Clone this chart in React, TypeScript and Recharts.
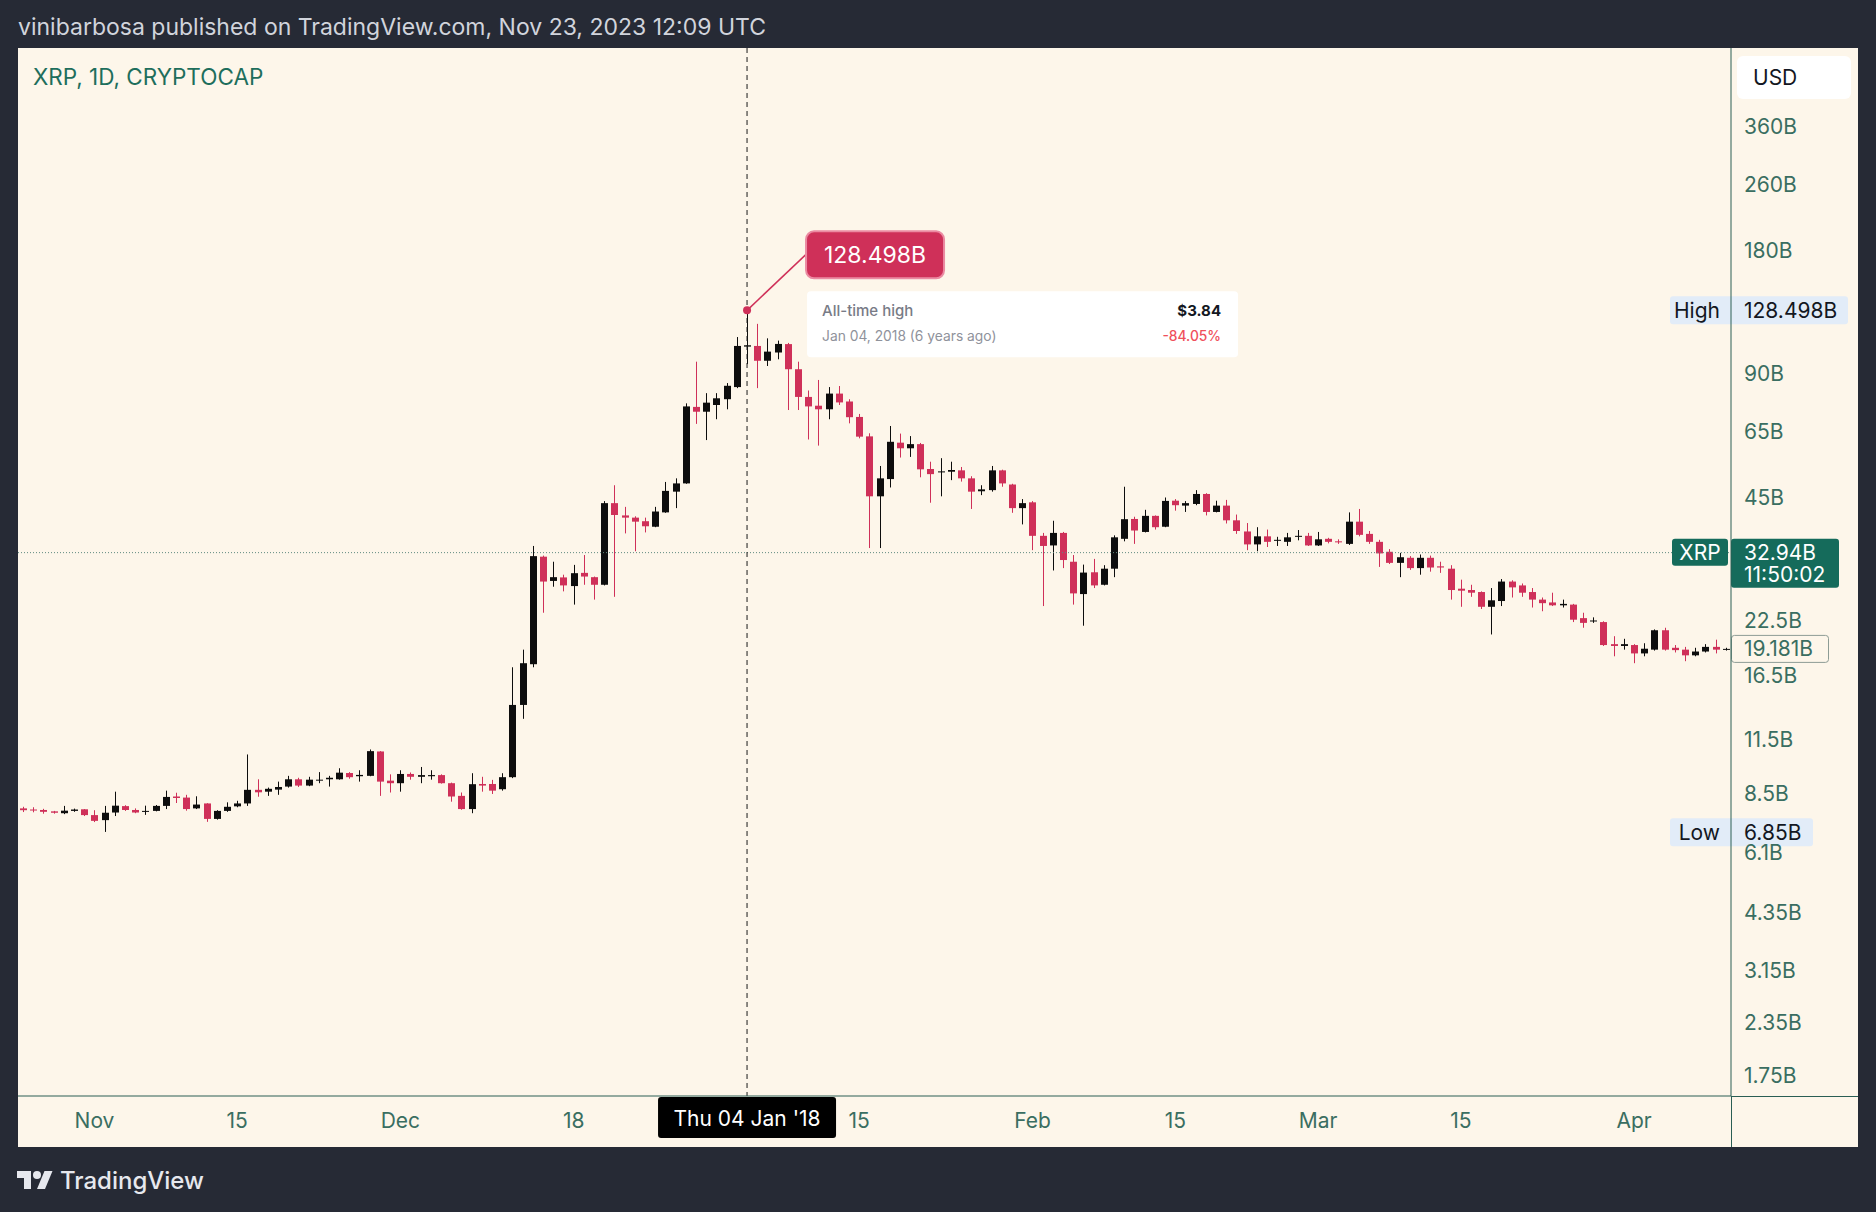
import React from "react";
import { ComposedChart, Bar, XAxis, YAxis, ReferenceLine, ReferenceDot } from "recharts";

const FONT = "Inter, 'Noto Sans', sans-serif";
const PAGE_BG = "#262a35";
const PANEL_BG = "#fdf6ea";
const AXIS = "#2a5e54";
const TICK = "#3a6e61";
const UP = "#0d0d0d";
const DOWN = "#cf3059";
const TEAL = "#156b5b";
const TAG_BLUE = "#e2ecf8";
const FS = 21;

// daily candles, XRP market cap in billions USD, first bar = 2017-10-25
const OPEN = [
  7.83, 7.78, 7.76, 7.7, 7.62, 7.72, 7.79, 7.54, 7.33, 7.65,
  7.93, 7.76, 7.68, 7.72, 7.94, 8.37, 8.32, 7.83, 8.05, 7.38,
  7.72, 7.92, 8.05, 8.69, 8.6, 8.7, 8.85, 9.22, 8.9, 9.15,
  9.22, 9.22, 9.55, 9.38, 9.4, 10.78, 9.15, 9.02, 9.5, 9.35,
  9.38, 9.44, 9.02, 8.4, 7.8, 8.98, 8.98, 8.72, 9.33, 14.0,
  17.6, 32.2, 28.1, 28.66, 27.3, 29.4, 28.7, 27.5, 43.5, 40.6,
  40.1, 39.3, 38.1, 41.3, 46.4, 48.6, 74.7, 72.7, 75.5, 78.0,
  83.5, 104.8, 105.2, 96.8, 101.4, 106.3, 92.3, 79.0, 75.2, 73.7,
  80.5, 77.0, 70.6, 63.3, 45.2, 49.8, 61.1, 59.2, 60.6, 52.7,
  51.7, 51.9, 52.3, 50.0, 46.5, 46.8, 52.3, 48.3, 42.3, 43.7,
  36.2, 34.3, 36.8, 31.3, 26.1, 29.5, 27.5, 30.1, 35.6, 39.8,
  37.0, 40.5, 38.1, 44.1, 42.9, 43.3, 45.8, 41.4, 42.9, 39.5,
  37.1, 34.5, 36.1, 35.2, 35.0, 36.0, 36.2, 34.3, 35.6, 35.1,
  34.6, 39.2, 36.6, 35.0, 33.1, 31.1, 32.0, 30.2, 32.0, 30.5,
  30.1, 26.9, 26.7, 26.4, 24.3, 25.1, 28.0, 27.4, 26.4, 25.3,
  24.9, 24.5, 24.6, 22.8, 22.4, 22.3, 19.7, 19.5, 19.6, 18.7,
  19.1, 21.3, 19.3, 19.1, 18.5, 18.9, 19.4, 19.1,
];

const HIGH = [
  7.9, 7.88, 7.81, 7.72, 7.94, 7.82, 7.8, 7.75, 7.94, 8.6,
  7.97, 7.83, 7.95, 7.98, 8.65, 8.55, 8.45, 8.38, 8.06, 7.75,
  8.1, 8.17, 10.6, 9.22, 8.8, 9.1, 9.4, 9.3, 9.35, 9.6,
  9.4, 9.81, 9.6, 9.7, 10.9, 10.8, 9.48, 9.7, 9.58, 9.88,
  9.7, 9.48, 9.05, 8.56, 9.54, 9.35, 9.19, 9.54, 17.3, 19.1,
  34.2, 32.4, 31.3, 29.1, 30.75, 32.5, 28.8, 44.0, 48.1, 42.6,
  40.4, 40.1, 42.6, 49.0, 50.0, 76.2, 96.3, 80.7, 80.7, 85.4,
  110.6, 128.498, 119.1, 109.8, 108.4, 107.0, 96.3, 81.9, 86.9, 83.5,
  84.0, 78.0, 71.8, 64.4, 53.6, 67.1, 64.3, 63.4, 61.0, 54.9,
  56.0, 54.9, 53.3, 50.6, 48.1, 53.6, 52.5, 48.5, 44.5, 44.0,
  36.8, 39.4, 37.0, 32.5, 30.8, 31.8, 30.7, 36.3, 47.7, 40.3,
  41.9, 40.6, 44.9, 44.5, 44.0, 46.8, 46.0, 44.1, 44.3, 40.8,
  38.9, 38.0, 37.5, 36.0, 36.8, 37.4, 36.8, 37.0, 35.8, 35.5,
  41.3, 42.1, 37.2, 35.4, 33.6, 32.9, 32.3, 32.6, 32.4, 31.3,
  30.7, 28.3, 27.5, 26.5, 27.0, 28.4, 28.2, 27.7, 27.0, 25.6,
  26.3, 25.3, 24.7, 23.5, 22.9, 22.4, 20.6, 20.3, 19.7, 19.8,
  21.4, 21.6, 19.6, 19.4, 19.3, 19.7, 20.2, 19.3,
];

const LOW = [
  7.67, 7.66, 7.6, 7.6, 7.58, 7.68, 7.5, 7.25, 6.86, 7.5,
  7.72, 7.62, 7.55, 7.7, 7.8, 8.07, 7.73, 7.8, 7.26, 7.35,
  7.68, 7.88, 7.94, 8.36, 8.4, 8.45, 8.8, 8.83, 8.87, 9.02,
  8.85, 9.2, 9.25, 9.1, 9.38, 8.4, 8.56, 8.6, 9.2, 9.02,
  9.2, 9.0, 8.13, 7.77, 7.62, 8.6, 8.49, 8.65, 9.28, 12.95,
  17.3, 23.5, 27.2, 26.5, 24.6, 27.5, 25.3, 27.4, 25.7, 36.7,
  33.2, 36.9, 38.0, 41.2, 42.3, 48.5, 67.9, 62.0, 69.7, 73.7,
  83.0, 95.0, 83.0, 94.0, 97.6, 73.4, 73.4, 62.2, 60.1, 69.7,
  75.5, 68.1, 62.6, 33.8, 33.8, 47.5, 56.2, 56.4, 50.3, 43.6,
  45.2, 49.5, 49.1, 42.1, 45.5, 46.4, 47.7, 41.2, 38.6, 33.4,
  24.4, 29.8, 30.2, 24.6, 21.85, 27.0, 27.4, 28.7, 35.1, 34.6,
  36.9, 37.5, 38.0, 41.7, 41.4, 43.0, 40.6, 41.3, 38.8, 36.6,
  33.4, 33.2, 34.0, 34.2, 34.2, 35.3, 34.2, 34.2, 34.7, 34.6,
  34.4, 36.1, 34.6, 30.4, 30.9, 28.7, 29.9, 29.1, 29.6, 29.4,
  25.3, 24.3, 25.7, 24.0, 20.8, 24.4, 25.6, 25.7, 24.2, 23.7,
  24.4, 24.2, 22.3, 21.6, 22.2, 19.5, 18.4, 19.1, 17.7, 18.4,
  19.0, 19.0, 18.8, 17.9, 18.4, 18.8, 18.7, 19.0,
];

const CLOSE = [
  7.75, 7.74, 7.68, 7.64, 7.73, 7.78, 7.54, 7.3, 7.64, 7.95,
  7.76, 7.65, 7.72, 7.94, 8.35, 8.3, 7.8, 8.0, 7.38, 7.72,
  7.9, 8.05, 8.69, 8.57, 8.74, 8.83, 9.22, 8.9, 9.2, 9.2,
  9.3, 9.57, 9.33, 9.45, 10.8, 9.1, 9.02, 9.5, 9.35, 9.44,
  9.44, 9.02, 8.37, 7.8, 8.97, 8.9, 8.65, 9.33, 14.0, 17.7,
  32.3, 28.0, 28.7, 27.4, 29.35, 28.8, 27.5, 43.5, 40.7, 40.1,
  39.2, 38.2, 41.5, 46.6, 48.6, 74.9, 72.7, 76.5, 78.4, 84.1,
  105.2, 105.6, 96.8, 101.9, 106.4, 92.3, 79.0, 74.9, 73.7, 80.5,
  76.6, 70.5, 63.2, 45.2, 50.0, 61.4, 59.2, 60.6, 52.6, 51.2,
  52.0, 52.4, 50.0, 46.4, 47.0, 52.3, 48.6, 42.3, 43.5, 36.2,
  34.2, 36.8, 31.6, 26.2, 29.45, 27.4, 30.1, 35.9, 39.75, 37.3,
  40.5, 38.0, 44.05, 43.0, 43.5, 45.8, 41.4, 42.9, 39.5, 37.2,
  34.5, 36.1, 35.0, 35.4, 35.9, 36.2, 34.3, 35.5, 35.0, 34.9,
  39.2, 36.4, 35.0, 32.8, 31.1, 32.1, 30.2, 32.0, 30.3, 30.3,
  26.7, 26.6, 26.3, 24.3, 25.2, 28.0, 27.1, 26.3, 25.3, 24.8,
  24.5, 24.7, 22.6, 22.2, 22.5, 19.6, 19.5, 19.7, 18.7, 19.2,
  21.3, 19.1, 19.05, 18.5, 18.9, 19.4, 19.1, 19.181,
];

const X_TICKS = [
  "2017-11-01", "2017-11-15", "2017-12-01", "2017-12-18", "2018-01-15",
  "2018-02-01", "2018-02-15", "2018-03-01", "2018-03-15", "2018-04-01",
];
const X_TICK_LABELS = ["Nov", "15", "Dec", "18", "15", "Feb", "15", "Mar", "15", "Apr"];
const Y_TICKS = [1.75, 2.35, 3.15, 4.35, 6.1, 8.5, 11.5, 16.5, 22.5, 45, 65, 90, 180, 260, 360];

const ATH_DATE = "2018-01-04";
const ATH_VALUE = 128.498;
const LOW_VALUE = 6.85;
const CURRENT_CAP = 32.94;
const LAST_CLOSE = 19.181;

const dayKey = (i: number) => new Date(Date.UTC(2017, 9, 25 + i)).toISOString().slice(0, 10);

const candles = OPEN.map((open, i) => {
  const close = CLOSE[i];
  return {
    date: dayKey(i),
    open,
    close,
    high: HIGH[i],
    low: LOW[i],
    up: close >= open,
    wick: [LOW[i], HIGH[i]],
    body: [Math.min(open, close), Math.max(open, close)],
  };
});

function Wick(props: any) {
  const { x, y, width, height, payload } = props;
  const cx = Math.floor(x + width / 2) + 0.5;
  const top = Math.min(y, y + height);
  return (
    <line x1={cx} x2={cx} y1={top} y2={top + Math.abs(height)} stroke={payload.up ? UP : DOWN} strokeWidth={1} />
  );
}

function Body(props: any) {
  const { x, y, width, height, payload } = props;
  const c = Math.floor(x + width / 2);
  const top = Math.min(y, y + height);
  const h = Math.max(1, Math.abs(height));
  return <rect x={c - 3} y={top} width={7} height={h} fill={payload.up ? UP : DOWN} />;
}

// right edge of the plot for a horizontal reference line
const rightOf = (p: any) => Math.max(p.x1, p.x2);
const leftOf = (p: any) => Math.min(p.x1, p.x2);

function ExtremeTag(p: any) {
  const r = rightOf(p);
  const y = p.y1;
  return (
    <g fontFamily={FONT} fontSize={FS}>
      <rect x={r - 61} y={y - 14} width={p.w} height={28} rx={3} fill={TAG_BLUE} />
      <text x={r - 11} y={y} dy="0.36em" textAnchor="end" fill="#131722">{p.name}</text>
      <text x={r + 13} y={y} dy="0.36em" fill="#131722">{p.value}</text>
    </g>
  );
}

function CurrentLine(p: any) {
  const r = rightOf(p);
  const y = p.y1;
  return (
    <g fontFamily={FONT} fontSize={FS}>
      <line x1={leftOf(p)} x2={r} y1={y} y2={y} stroke="#5f8b80" strokeDasharray="1 2" />
      <rect x={r - 59} y={y - 14} width={56} height={27} rx={3} fill={TEAL} />
      <text x={r - 31} y={y} dy="0.36em" textAnchor="middle" fill="#fff">XRP</text>
      <rect x={r} y={y - 14} width={108} height={49} rx={3} fill={TEAL} />
      <text x={r + 13} y={y} dy="0.36em" fill="#fff">32.94B</text>
      <text x={r + 13} y={y + 22} dy="0.36em" fill="#fff">11:50:02</text>
    </g>
  );
}

function LastCloseTag(p: any) {
  const r = rightOf(p);
  const y = p.y1;
  return (
    <g fontFamily={FONT} fontSize={FS}>
      <rect x={r + 0.5} y={y - 13.5} width={97} height={27} rx={3} fill={PANEL_BG} stroke="#8d9c95" />
      <text x={r + 13} y={y} dy="0.36em" fill={TICK}>19.181B</text>
    </g>
  );
}

function Crosshair(p: any) {
  const x = p.x1;
  const top = Math.min(p.y1, p.y2);
  const bottom = Math.max(p.y1, p.y2);
  return (
    <g fontFamily={FONT}>
      <line x1={x} x2={x} y1={top} y2={bottom} stroke="#1a1a1a" strokeDasharray="5 4" />
      <rect x={x - 89} y={bottom + 1} width={178} height={41} rx={3} fill="#000" />
      <text x={x} y={bottom + 22} dy="0.36em" textAnchor="middle" fill="#fff" fontSize={FS}>
        Thu 04 Jan '18
      </text>
    </g>
  );
}

function AthMarker({ cx, cy }: any) {
  return (
    <g fontFamily={FONT}>
      <line x1={cx} y1={cy} x2={cx + 59} y2={cy - 56} stroke={DOWN} strokeWidth={1.5} />
      <circle cx={cx} cy={cy} r={4} fill={DOWN} />
      <rect x={cx + 59} y={cy - 79} width={138} height={47} rx={8} fill={DOWN} stroke="#eb8aa2" strokeWidth={2} />
      <text x={cx + 128} y={cy - 55.5} dy="0.36em" textAnchor="middle" fill="#fff" fontSize={23}>
        128.498B
      </text>
      <rect x={cx + 60} y={cy - 19} width={431} height={66} rx={4} fill="#ffffff" />
      <text x={cx + 75} y={cy + 6} fontSize={15} fontWeight={500} fill="#787b86">All-time high</text>
      <text x={cx + 474} y={cy + 6} fontSize={15} fontWeight={700} textAnchor="end" fill="#131722">$3.84</text>
      <text x={cx + 75} y={cy + 31} fontSize={13.8} fill="#8f929b">Jan 04, 2018 (6 years ago)</text>
      <text x={cx + 474} y={cy + 31} fontSize={13.8} fontWeight={500} textAnchor="end" fill="#f0505c">-84.05%</text>
    </g>
  );
}

export default function App() {
  return (
    <div
      style={{
        position: "absolute",
        left: 0,
        top: 0,
        width: 1876,
        height: 1212,
        background: PAGE_BG,
        fontFamily: FONT,
        overflow: "hidden",
      }}
    >
      <div style={{ position: "absolute", left: 18, top: 48, width: 1840, height: 1099, background: PANEL_BG }} />
      <div style={{ position: "absolute", left: 1731, top: 1096, width: 127, height: 1, background: AXIS }} />
      <div style={{ position: "absolute", left: 1731, top: 1096, width: 1, height: 51, background: AXIS }} />

      <div style={{ position: "absolute", left: 0, top: 0 }}>
        <ComposedChart
          width={1876}
          height={1212}
          data={candles}
          margin={{ top: 48, left: 18, right: 18, bottom: 65 }}
        >
          <XAxis xAxisId="body" dataKey="date" hide height={0} />
          <XAxis
            xAxisId="main"
            dataKey="date"
            ticks={X_TICKS}
            interval={0}
            height={51}
            tickSize={0}
            tickMargin={17}
            axisLine={{ stroke: AXIS }}
            tick={{ fill: TICK, fontSize: FS, fontFamily: FONT }}
            tickFormatter={(d: string) => X_TICK_LABELS[X_TICKS.indexOf(d)] ?? ""}
          />
          <YAxis
            orientation="right"
            type="number"
            scale="log"
            domain={[1.556, 561]}
            allowDataOverflow
            ticks={Y_TICKS}
            interval={0}
            width={127}
            tickSize={0}
            tickMargin={13}
            axisLine={{ stroke: AXIS }}
            tick={{ fill: TICK, fontSize: FS, fontFamily: FONT, textAnchor: "start" }}
            tickFormatter={(v: number) => `${v}B`}
          />
          <ReferenceLine xAxisId="main" y={CURRENT_CAP} shape={(p: any) => <CurrentLine {...p} />} />
          <ReferenceLine xAxisId="main" x={ATH_DATE} shape={(p: any) => <Crosshair {...p} />} />
          <Bar
            xAxisId="main"
            dataKey="wick"
            barSize={1}
            isAnimationActive={false}
            shape={(p: any) => <Wick {...p} />}
          />
          <Bar
            xAxisId="body"
            dataKey="body"
            barSize={7}
            isAnimationActive={false}
            shape={(p: any) => <Body {...p} />}
          />
          <ReferenceLine
            xAxisId="main"
            y={ATH_VALUE}
            shape={(p: any) => <ExtremeTag {...p} name="High" value="128.498B" w={178} />}
          />
          <ReferenceLine
            xAxisId="main"
            y={LOW_VALUE}
            shape={(p: any) => <ExtremeTag {...p} name="Low" value="6.85B" w={143} />}
          />
          <ReferenceLine xAxisId="main" y={LAST_CLOSE} shape={(p: any) => <LastCloseTag {...p} />} />
          <ReferenceDot
            xAxisId="main"
            x={ATH_DATE}
            y={ATH_VALUE}
            r={4}
            shape={(p: any) => <AthMarker cx={p.cx} cy={p.cy} />}
          />
        </ComposedChart>
      </div>

      <div
        style={{
          position: "absolute",
          left: 18,
          top: 12,
          color: "#d1d4dc",
          fontSize: 23,
          lineHeight: "30px",
          whiteSpace: "nowrap",
        }}
      >
        vinibarbosa published on TradingView.com, Nov 23, 2023 12:09 UTC
      </div>
      <div
        style={{
          position: "absolute",
          left: 33,
          top: 62,
          color: "#1e6e5c",
          fontSize: 22.5,
          lineHeight: "30px",
          whiteSpace: "nowrap",
        }}
      >
        XRP, 1D, CRYPTOCAP
      </div>
      <div
        style={{
          position: "absolute",
          left: 1737,
          top: 56,
          width: 114,
          height: 43,
          borderRadius: 6,
          background: "#ffffff",
          color: "#131722",
          fontSize: FS,
          lineHeight: "43px",
          paddingLeft: 16,
          boxSizing: "border-box",
        }}
      >
        USD
      </div>
      <svg style={{ position: "absolute", left: 17, top: 1167 }} width={36} height={28} viewBox="0 0 36 28">
        <path d="M14 22H7V11H0V4h14v18z" fill="#e6e8ee" />
        <circle cx={20} cy={8} r={4} fill="#e6e8ee" />
        <path d="M28 22h-8l7.5-18h8L28 22z" fill="#e6e8ee" />
      </svg>
      <div
        style={{
          position: "absolute",
          left: 60,
          top: 1165,
          color: "#e6e8ee",
          fontSize: 24,
          fontWeight: 500,
          lineHeight: "32px",
          whiteSpace: "nowrap",
        }}
      >
        TradingView
      </div>
    </div>
  );
}
